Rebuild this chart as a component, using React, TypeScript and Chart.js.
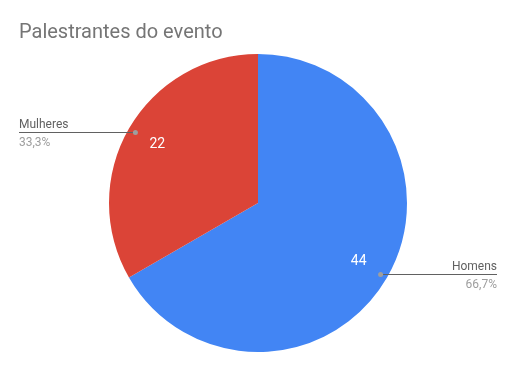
import React, { useEffect, useRef } from "react";
import { Chart, registerables } from "chart.js";

Chart.register(...registerables);

const title = "Palestrantes do evento";
const categories = ["Homens", "Mulheres"];
const values = [44, 22];
const colors = ["#4285F4", "#DB4437"];

const labelPlugin = {
  id: "gsLabels",
  afterDraw(chart: any) {
    const ctx = chart.ctx;
    const meta = chart.getDatasetMeta(0);
    const total = values.reduce((a, b) => a + b, 0);
    ctx.save();
    // title
    ctx.font = "20px Roboto";
    ctx.fillStyle = "#757575";
    ctx.textBaseline = "alphabetic";
    ctx.textAlign = "left";
    ctx.fillText(title, 19, 38);

    meta.data.forEach((arc: any, i: number) => {
      const { x, y, startAngle, endAngle, outerRadius } = arc.getProps(
        ["x", "y", "startAngle", "endAngle", "outerRadius"],
        true
      );
      const mid = (startAngle + endAngle) / 2;
      const cx = Math.cos(mid);
      const cy = Math.sin(mid);
      // value label
      ctx.font = "14px Roboto";
      ctx.fillStyle = "#ffffff";
      ctx.textAlign = "center";
      ctx.textBaseline = "middle";
      ctx.fillText(String(values[i]), x + cx * outerRadius * 0.78, y + cy * outerRadius * 0.78);
      // leader
      const dx = x + cx * outerRadius * 0.95;
      const dy = y + cy * outerRadius * 0.95;
      const right = cx > 0;
      const endX = right ? 497 : 19;
      ctx.strokeStyle = "#616161";
      ctx.lineWidth = 1;
      ctx.beginPath();
      ctx.moveTo(dx, Math.round(dy) + 0.5);
      ctx.lineTo(endX, Math.round(dy) + 0.5);
      ctx.stroke();
      ctx.fillStyle = "#9e9e9e";
      ctx.beginPath();
      ctx.arc(dx, Math.round(dy) + 0.5, 2.5, 0, Math.PI * 2);
      ctx.fill();
      ctx.font = "12px Roboto";
      ctx.textAlign = right ? "right" : "left";
      ctx.textBaseline = "middle";
      ctx.fillStyle = "#616161";
      ctx.fillText(categories[i], endX, Math.round(dy) - 7);
      ctx.fillStyle = "#9e9e9e";
      const pct = ((values[i] / total) * 100).toFixed(1).replace(".", ",") + "%";
      ctx.fillText(pct, endX, Math.round(dy) + 11);
    });
    ctx.restore();
  },
};

export default function App() {
  const ref = useRef<HTMLCanvasElement>(null);
  useEffect(() => {
    if (!ref.current) return;
    const chart = new Chart(ref.current, {
      type: "pie",
      data: {
        labels: categories,
        datasets: [
          {
            data: values,
            backgroundColor: colors,
            borderWidth: 0,
          },
        ],
      },
      options: {
        responsive: false,
        animation: false,
        layout: { padding: { top: 54, bottom: 19, left: 109, right: 109 } },
        plugins: {
          legend: { display: false },
          tooltip: { enabled: false },
          title: { display: false },
        },
      },
      plugins: [labelPlugin],
    });
    return () => chart.destroy();
  }, []);
  return (
    <div style={{ position: "fixed", left: 0, top: 0, width: 516, height: 371, background: "#fff" }}>
      <canvas ref={ref} width={516} height={371} />
    </div>
  );
}
